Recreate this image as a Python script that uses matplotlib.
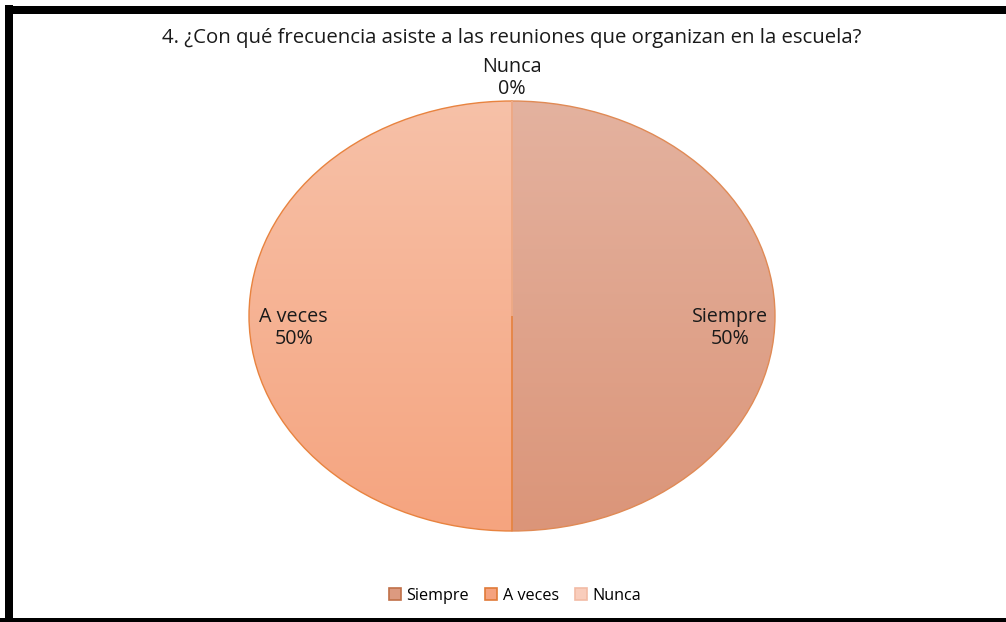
import numpy as np
import matplotlib
matplotlib.use('Agg')
import matplotlib.pyplot as plt
from matplotlib.patches import Patch, Rectangle
from matplotlib.colors import LinearSegmentedColormap

categories = ['Siempre', 'A veces', 'Nunca']
percents = [50, 50, 0]
title = '4. ¿Con qué frecuencia asiste a las reuniones que organizan en la escuela?'

# gradient colours (top, bottom) per slice
grad_top = ['#E4B29F', '#F7C1A8', '#FAD3C4']
grad_bot = ['#DB9579', '#F5A47F', '#F7BDA6']
edge_cols = ['#E08A55', '#E8833F', '#F0B8A0']
legend_face = ['#DC9A80', '#F5A27E', '#F9CDBC']
legend_edge = ['#C07048', '#E07A38', '#F2BBA5']

plt.rcParams['font.family'] = ['Open Sans', 'DejaVu Sans']

W, H = 1006, 622
fig = plt.figure(figsize=(W / 100, H / 100), dpi=100)
fig.patch.set_facecolor('white')

cx, cy, rx, ry = 512, 316, 263, 215
ax = fig.add_axes([(cx - rx) / W, (H - cy - ry) / H, 2 * rx / W, 2 * ry / H])

wedges, _ = ax.pie(percents, startangle=90, counterclock=False,
                   wedgeprops=dict(linewidth=1.0))
ax.set_aspect('auto')
ax.axis('off')

grad = np.linspace(1, 0, 256).reshape(-1, 1)
for i, w in enumerate(wedges):
    w.set_facecolor('none')
    w.set_edgecolor(edge_cols[i])
    w.set_zorder(3)
    cmap = LinearSegmentedColormap.from_list('g%d' % i, [grad_bot[i], grad_top[i]])
    im = ax.imshow(grad, extent=[-1, 1, -1, 1], cmap=cmap, aspect='auto',
                   zorder=2, origin='upper', vmin=0, vmax=1)
    im.set_clip_path(w)
ax.set_xlim(-1, 1)
ax.set_ylim(-1, 1)

# data labels
total = sum(percents)
start = 90.0
for i, (c, p) in enumerate(zip(categories, percents)):
    ang = start - 360.0 * p / total / 2
    start -= 360.0 * p / total
    if p == 0:
        x, y = 1.107 * np.cos(np.radians(ang)), 1.107 * np.sin(np.radians(ang))
    else:
        x, y = 0.83 * np.cos(np.radians(ang)), 0.83 * np.sin(np.radians(ang)) - 0.055
    ax.text(x, y, '%s\n%d%%' % (c, p), ha='center', va='center',
            fontsize=14.2, color='#1a1a1a', linespacing=1.15, zorder=5)

fig.text(512 / W, 1 - 38 / H, title, ha='center', va='center',
         fontsize=14.7, color='#1a1a1a')

handles = [Patch(facecolor=legend_face[i], edgecolor=legend_edge[i], linewidth=1.2)
           for i in range(len(categories))]
fig.legend(handles, categories, loc='center', bbox_to_anchor=(515 / W, 1 - 596 / H),
           ncol=3, frameon=False, fontsize=11.6, handlelength=0.75, handleheight=0.75,
           handletextpad=0.35, columnspacing=1.0)

# black frame
fig.patches.append(Rectangle((5 / W, 0), 8 / W, 1 - 5 / H, transform=fig.transFigure,
                             facecolor='black', edgecolor='none', figure=fig))
fig.patches.append(Rectangle((5 / W, 1 - 14 / H), 1, 8 / H, transform=fig.transFigure,
                             facecolor='black', edgecolor='none', figure=fig))
fig.patches.append(Rectangle((0, 0), 1, 4 / H, transform=fig.transFigure,
                             facecolor='black', edgecolor='none', figure=fig))

fig.savefig('out.png', dpi=100)
